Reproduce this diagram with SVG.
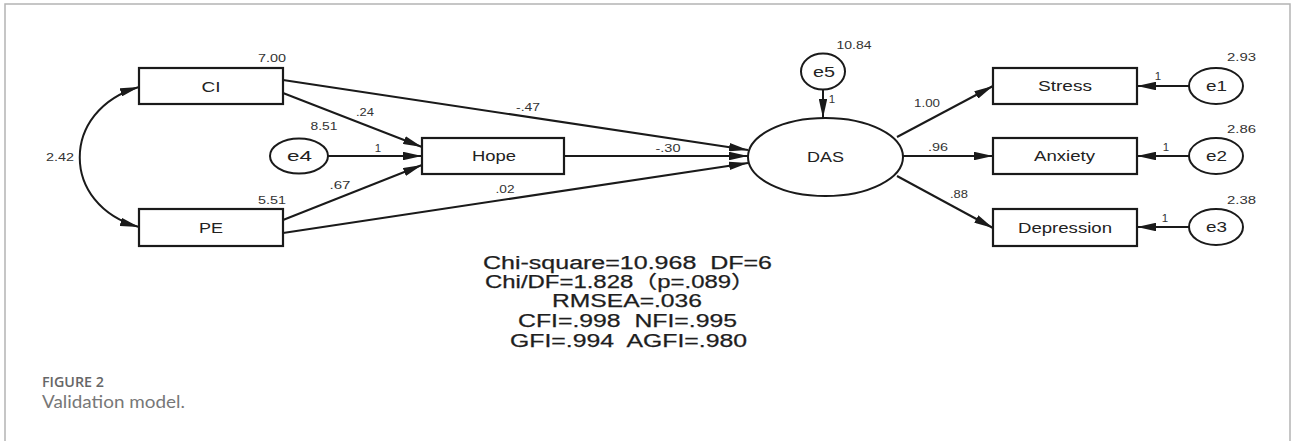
<svg xmlns="http://www.w3.org/2000/svg" width="1293" height="441" viewBox="0 0 1293 441">
<style>
.frame{fill:none;stroke:#b4b4b4;stroke-width:1.5}
.box{fill:#fff;stroke:#1a1a1a;stroke-width:2.2}
.ell{fill:#fff;stroke:#1a1a1a;stroke-width:2}
.ln{fill:none;stroke:#1a1a1a;stroke-width:2}
.lbl{font-family:"Liberation Sans",Arial,sans-serif;font-size:15px;fill:#222;text-anchor:middle}
.num{font-family:"Liberation Sans",Arial,sans-serif;font-size:11.5px;fill:#333;text-anchor:middle}
.stat{font-family:"Liberation Sans","Noto Sans CJK SC",Arial,sans-serif;font-size:18px;fill:#1e1e1e;text-anchor:middle;stroke:#1e1e1e;stroke-width:0.25}
.capt{font-family:"Open Sans",sans-serif;font-size:14px;font-weight:600;fill:#666}
.capd{font-family:Lato,"Open Sans",sans-serif;font-size:17px;fill:#777}
</style>
<defs>
<marker id="ah" viewBox="0 0 19 8.5" refX="19" refY="4.25" markerWidth="19" markerHeight="8.5" markerUnits="userSpaceOnUse" orient="auto-start-reverse">
<path d="M0,0 L19,4.25 L0,8.5 z" fill="#1a1a1a"/>
</marker>
</defs>
<rect width="1293" height="441" fill="#fff"/>
<path class="frame" d="M5,441 V4 H1290 V441"/>

<g id="connectors">
<path class="ln" d="M139,87 C60,110 60,205 139,227" marker-start="url(#ah)" marker-end="url(#ah)"/>
<line class="ln" x1="283" y1="93" x2="422" y2="147" marker-end="url(#ah)"/>
<line class="ln" x1="283" y1="80" x2="748" y2="150" marker-end="url(#ah)"/>
<line class="ln" x1="328" y1="156" x2="422" y2="156" marker-end="url(#ah)"/>
<line class="ln" x1="283" y1="220" x2="422" y2="165" marker-end="url(#ah)"/>
<line class="ln" x1="283" y1="233" x2="748" y2="163" marker-end="url(#ah)"/>
<line class="ln" x1="564" y1="156" x2="748" y2="156" marker-end="url(#ah)"/>
<line class="ln" x1="823" y1="90" x2="823" y2="118" marker-end="url(#ah)"/>
<line class="ln" x1="897" y1="137" x2="993" y2="86" marker-end="url(#ah)"/>
<line class="ln" x1="903" y1="156" x2="993" y2="156" marker-end="url(#ah)"/>
<line class="ln" x1="897" y1="176" x2="993" y2="228" marker-end="url(#ah)"/>
<line class="ln" x1="1189" y1="86" x2="1137" y2="86" marker-end="url(#ah)"/>
<line class="ln" x1="1189" y1="156" x2="1137" y2="156" marker-end="url(#ah)"/>
<line class="ln" x1="1189" y1="227" x2="1137" y2="227" marker-end="url(#ah)"/>
<text class="num" x="60" y="161" textLength="28" lengthAdjust="spacingAndGlyphs">2.42</text>
<text class="num" x="365" y="116" textLength="18" lengthAdjust="spacingAndGlyphs">.24</text>
<text class="num" x="378" y="152">1</text>
<text class="num" x="340" y="189" textLength="21" lengthAdjust="spacingAndGlyphs">.67</text>
<text class="num" x="528" y="111" textLength="24" lengthAdjust="spacingAndGlyphs">-.47</text>
<text class="num" x="668" y="152" textLength="25" lengthAdjust="spacingAndGlyphs">-.30</text>
<text class="num" x="505" y="193" textLength="19" lengthAdjust="spacingAndGlyphs">.02</text>
<text class="num" x="832" y="103">1</text>
<text class="num" x="927" y="107" textLength="26" lengthAdjust="spacingAndGlyphs">1.00</text>
<text class="num" x="938" y="151" textLength="20" lengthAdjust="spacingAndGlyphs">.96</text>
<text class="num" x="959" y="198" textLength="18" lengthAdjust="spacingAndGlyphs">.88</text>
<text class="num" x="1158" y="80">1</text>
<text class="num" x="1166" y="151">1</text>
<text class="num" x="1165" y="222">1</text>
</g>

<g id="CI">
<rect class="box" x="139" y="68" width="144" height="36"/>
<text class="lbl" x="211" y="92" textLength="19" lengthAdjust="spacingAndGlyphs">CI</text>
<text class="num" x="272" y="62" textLength="28" lengthAdjust="spacingAndGlyphs">7.00</text>
</g>
<g id="PE">
<rect class="box" x="139" y="209" width="144" height="37"/>
<text class="lbl" x="211" y="233" textLength="24" lengthAdjust="spacingAndGlyphs">PE</text>
<text class="num" x="272" y="204" textLength="28" lengthAdjust="spacingAndGlyphs">5.51</text>
</g>
<g id="e4">
<ellipse class="ell" cx="299" cy="156" rx="29" ry="17.5"/>
<text class="lbl" x="299.5" y="161" textLength="25" lengthAdjust="spacingAndGlyphs">e4</text>
<text class="num" x="324" y="130" textLength="27" lengthAdjust="spacingAndGlyphs">8.51</text>
</g>
<g id="Hope">
<rect class="box" x="422" y="138" width="142" height="36"/>
<text class="lbl" x="494" y="161" textLength="44" lengthAdjust="spacingAndGlyphs">Hope</text>
</g>
<g id="DAS">
<ellipse class="ell" cx="825.5" cy="157" rx="77.5" ry="39"/>
<text class="lbl" x="825.5" y="162" textLength="37" lengthAdjust="spacingAndGlyphs">DAS</text>
</g>
<g id="e5">
<ellipse class="ell" cx="823" cy="71.5" rx="22" ry="18"/>
<text class="lbl" x="824" y="77" textLength="22" lengthAdjust="spacingAndGlyphs">e5</text>
<text class="num" x="854" y="49" textLength="35" lengthAdjust="spacingAndGlyphs">10.84</text>
</g>
<g id="Stress">
<rect class="box" x="993" y="68" width="144" height="36"/>
<text class="lbl" x="1065" y="91" textLength="54" lengthAdjust="spacingAndGlyphs">Stress</text>
</g>
<g id="Anxiety">
<rect class="box" x="993" y="138" width="144" height="36"/>
<text class="lbl" x="1064.5" y="161" textLength="61" lengthAdjust="spacingAndGlyphs">Anxiety</text>
</g>
<g id="Depression">
<rect class="box" x="993" y="209" width="144" height="37"/>
<text class="lbl" x="1065" y="233" textLength="94" lengthAdjust="spacingAndGlyphs">Depression</text>
</g>
<g id="e1">
<ellipse class="ell" cx="1216" cy="86" rx="27" ry="18"/>
<text class="lbl" x="1216.5" y="91" textLength="21" lengthAdjust="spacingAndGlyphs">e1</text>
<text class="num" x="1241.5" y="61" textLength="29" lengthAdjust="spacingAndGlyphs">2.93</text>
</g>
<g id="e2">
<ellipse class="ell" cx="1216" cy="156" rx="27" ry="18"/>
<text class="lbl" x="1216.5" y="161" textLength="21" lengthAdjust="spacingAndGlyphs">e2</text>
<text class="num" x="1241.5" y="133" textLength="29" lengthAdjust="spacingAndGlyphs">2.86</text>
</g>
<g id="e3">
<ellipse class="ell" cx="1216" cy="227" rx="27" ry="18"/>
<text class="lbl" x="1216.5" y="232" textLength="21" lengthAdjust="spacingAndGlyphs">e3</text>
<text class="num" x="1241.5" y="204" textLength="29" lengthAdjust="spacingAndGlyphs">2.38</text>
</g>

<g id="fit-stats">
<text class="stat" xml:space="preserve" x="627.5" y="268.5" textLength="289" lengthAdjust="spacingAndGlyphs">Chi-square=10.968  DF=6</text>
<text class="stat" x="485" y="287.5" style="text-anchor:start" textLength="270" lengthAdjust="spacingAndGlyphs">Chi/DF=1.828（p=.089）</text>
<text class="stat" x="627" y="306.5" textLength="150" lengthAdjust="spacingAndGlyphs">RMSEA=.036</text>
<text class="stat" xml:space="preserve" x="627.5" y="326.5" textLength="219" lengthAdjust="spacingAndGlyphs">CFI=.998  NFI=.995</text>
<text class="stat" xml:space="preserve" x="628.5" y="346.5" textLength="237" lengthAdjust="spacingAndGlyphs">GFI=.994  AGFI=.980</text>
</g>

<g id="caption">
<text class="capt" x="42" y="387" textLength="62" lengthAdjust="spacingAndGlyphs">FIGURE 2</text>
<text class="capd" x="42" y="408" textLength="143" lengthAdjust="spacingAndGlyphs">Validation model.</text>
</g>
</svg>
